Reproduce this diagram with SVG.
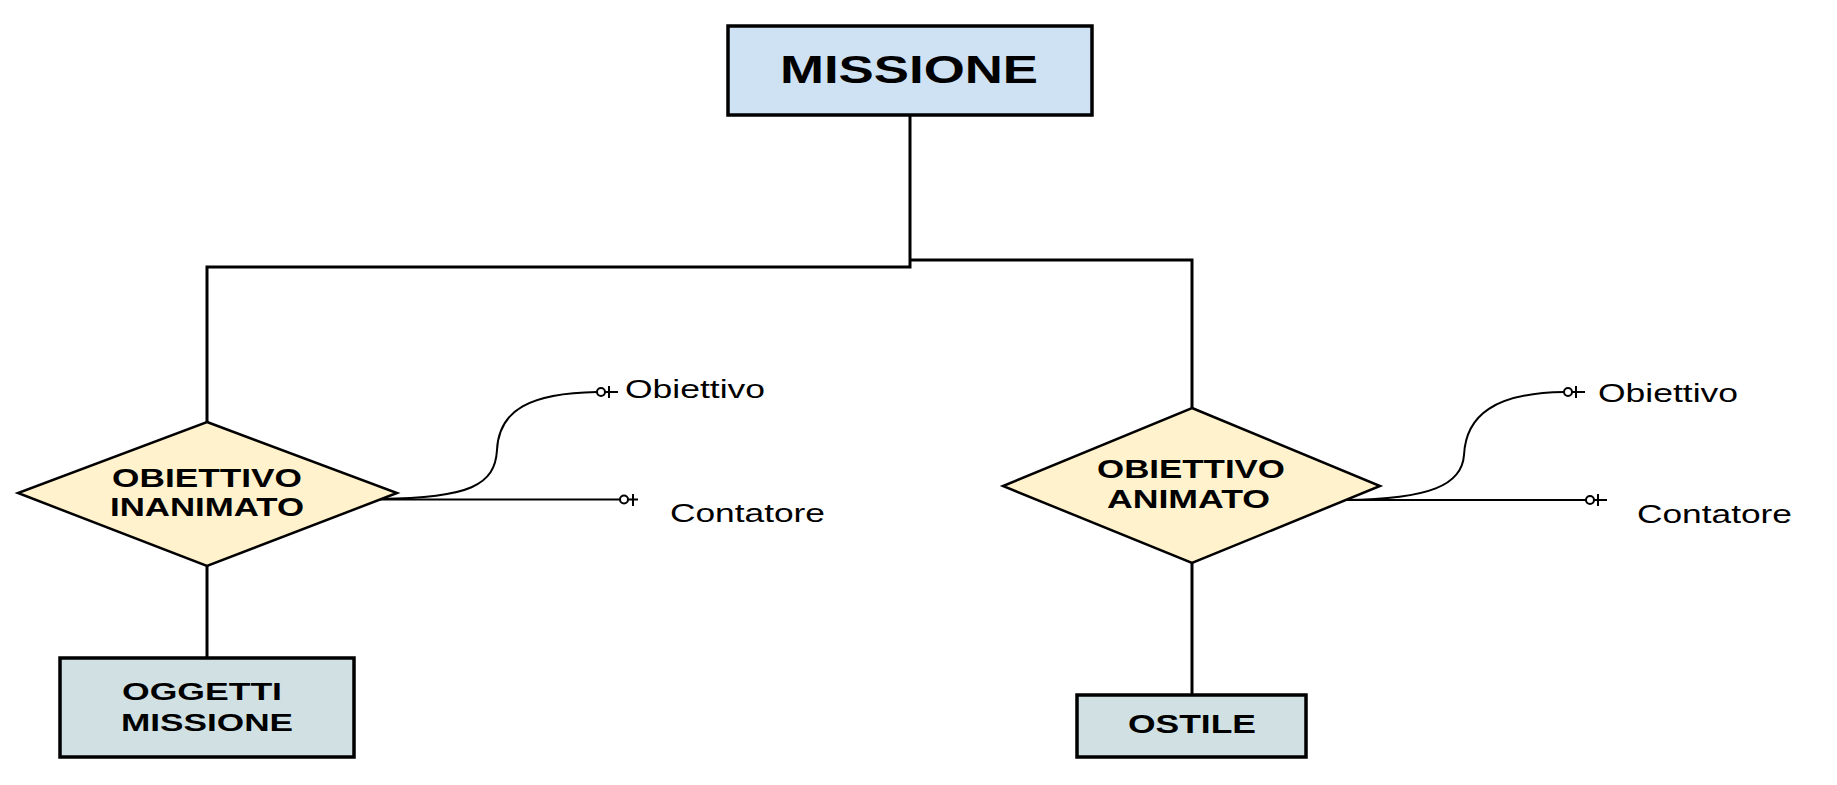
<svg xmlns="http://www.w3.org/2000/svg" width="1837" height="785" viewBox="0 0 1837 785">
<style>
.ent{stroke:#000;stroke-width:3.5}
.rel{fill:#fff2cc;stroke:#000;stroke-width:2.5}
.b{font-family:"Liberation Sans",Arial,sans-serif;font-weight:bold;fill:#000}
.r{font-family:"Liberation Sans",Arial,sans-serif;fill:#000}
.conn{fill:none;stroke:#000;stroke-width:3}
.attr{fill:none;stroke:#000;stroke-width:2}
.circ{fill:#fff;stroke:#000;stroke-width:2}
</style>
<rect width="1837" height="785" fill="#fff"/>
<g id="connectors">
<polyline class="conn" points="910,115 910,267 207,267 207,422"/>
<polyline class="conn" points="910,260 1192,260 1192,408"/>
<line class="conn" x1="207" y1="566" x2="207" y2="658"/>
<line class="conn" x1="1192" y1="563" x2="1192" y2="695"/>
<path class="attr" d="M380 499 C470 498 495 485 497 450 C499 410 530 393 597 392"/>
<line class="attr" x1="380" y1="499.5" x2="620" y2="499.5"/>
<path class="attr" d="M1346 500 C1430 499 1462 485 1464 455 C1466 415 1495 393 1564 392"/>
<line class="attr" x1="1346" y1="500" x2="1586" y2="500"/>
</g>
<g id="attr-obiettivo-1">
<circle class="circ" cx="601" cy="392" r="4"/>
<line class="attr" x1="605" y1="392" x2="618" y2="392"/>
<line class="attr" x1="609" y1="386" x2="609" y2="398"/>
<text class="r" x="625" y="398" font-size="26" textLength="140" lengthAdjust="spacingAndGlyphs">Obiettivo</text>
</g>
<g id="attr-contatore-1">
<circle class="circ" cx="624" cy="499.5" r="4"/>
<line class="attr" x1="628" y1="499.5" x2="638" y2="499.5"/>
<line class="attr" x1="633" y1="494" x2="633" y2="506"/>
<text class="r" x="670" y="522" font-size="25" textLength="155" lengthAdjust="spacingAndGlyphs">Contatore</text>
</g>
<g id="attr-obiettivo-2">
<circle class="circ" cx="1568" cy="392" r="4"/>
<line class="attr" x1="1572" y1="392" x2="1585" y2="392"/>
<line class="attr" x1="1576" y1="386" x2="1576" y2="398"/>
<text class="r" x="1598" y="402" font-size="26" textLength="140" lengthAdjust="spacingAndGlyphs">Obiettivo</text>
</g>
<g id="attr-contatore-2">
<circle class="circ" cx="1590" cy="500" r="4"/>
<line class="attr" x1="1594" y1="500" x2="1607" y2="500"/>
<line class="attr" x1="1598" y1="494" x2="1598" y2="506"/>
<text class="r" x="1637" y="523" font-size="25" textLength="155" lengthAdjust="spacingAndGlyphs">Contatore</text>
</g>
<g id="missione">
<rect class="ent" x="728" y="26" width="364" height="89" fill="#cfe2f3"/>
<text class="b" x="780" y="83" font-size="38" textLength="258" lengthAdjust="spacingAndGlyphs">MISSIONE</text>
</g>
<g id="obiettivo-inanimato">
<polygon class="rel" points="207,422 397,493 207,566 18,493"/>
<text class="b" x="112" y="487" font-size="26" textLength="190" lengthAdjust="spacingAndGlyphs">OBIETTIVO</text>
<text class="b" x="110" y="516" font-size="26" textLength="194" lengthAdjust="spacingAndGlyphs">INANIMATO</text>
</g>
<g id="obiettivo-animato">
<polygon class="rel" points="1192,408 1380,486 1192,563 1003,486"/>
<text class="b" x="1097" y="478" font-size="26" textLength="188" lengthAdjust="spacingAndGlyphs">OBIETTIVO</text>
<text class="b" x="1107" y="508" font-size="26" textLength="163" lengthAdjust="spacingAndGlyphs">ANIMATO</text>
</g>
<g id="oggetti-missione">
<rect class="ent" x="60" y="658" width="294" height="99" fill="#d0e0e3"/>
<text class="b" x="122" y="700" font-size="24" textLength="160" lengthAdjust="spacingAndGlyphs">OGGETTI</text>
<text class="b" x="121" y="731" font-size="24" textLength="172" lengthAdjust="spacingAndGlyphs">MISSIONE</text>
</g>
<g id="ostile">
<rect class="ent" x="1077" y="695" width="229" height="62" fill="#d0e0e3"/>
<text class="b" x="1128" y="733" font-size="25" textLength="128" lengthAdjust="spacingAndGlyphs">OSTILE</text>
</g>
</svg>
